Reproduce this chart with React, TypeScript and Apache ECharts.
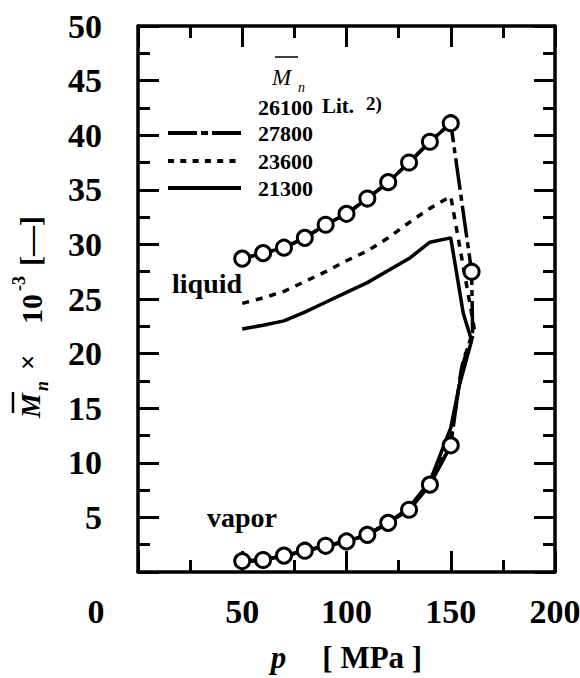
import React, { useEffect, useRef } from 'react';
import * as echarts from 'echarts';

// Pressure [MPa] at which the curves / literature points are given
const pressureSteps = [50, 60, 70, 80, 90, 100, 110, 120, 130, 140, 150];

// Lit. 2) data, Mn = 26100 (Mn x 10^-3)
const litLiquid = [28.7, 29.2, 29.7, 30.6, 31.8, 32.8, 34.2, 35.7, 37.5, 39.4, 41.1];
const litVapor = [1.0, 1.1, 1.5, 1.95, 2.4, 2.8, 3.4, 4.5, 5.7, 8.0, 11.6];
const litExtraP = [160];
const litExtraM = [27.5];

// Calculated, Mn = 27800 (dash-dot)
const liquid27800 = [28.7, 29.2, 29.7, 30.6, 31.8, 32.8, 34.2, 35.7, 37.5, 39.4, 41.1];
const turnP27800 = [160, 160.5, 155];
const turnM27800 = [27.5, 22.0, 18.5];
const vapor27800 = [1.0, 1.1, 1.5, 1.9, 2.4, 2.8, 3.4, 4.5, 5.7, 8.0, 11.6];

// Calculated, Mn = 23600 (dotted)
const liquid23600 = [24.6, 25.1, 25.7, 26.6, 27.5, 28.5, 29.4, 30.6, 32.0, 33.3, 34.4];
const turnP23600 = [160, 161.5, 156];
const turnM23600 = [23.7, 22.0, 19.5];
const vapor23600 = [0.9, 1.1, 1.5, 1.9, 2.4, 2.8, 3.4, 4.5, 5.8, 8.1, 12.2];

// Calculated, Mn = 21300 (solid)
const liquid21300 = [22.25, 22.6, 23.0, 23.8, 24.7, 25.6, 26.5, 27.6, 28.7, 30.2, 30.6];
const turnP21300 = [156, 160, 154];
const turnM21300 = [23.7, 21.2, 17.0];
const vapor21300 = [0.9, 1.1, 1.5, 1.9, 2.4, 2.8, 3.4, 4.5, 5.9, 8.3, 13.2];

const legendLabels = ['26100', '27800', '23600', '21300'];

const FONT = 'Liberation Serif, Times New Roman, serif';

const pairs = (xs: number[], ys: number[]) => xs.map((x, i) => [x, ys[i]]);
const loop = (liq: number[], tp: number[], tm: number[], vap: number[]) => [
  ...pairs(pressureSteps, liq),
  ...pairs(tp, tm),
  ...pairs(pressureSteps, vap).reverse(),
];

const txt = (
  x: number,
  y: number,
  text: string,
  fontSize: number,
  opts: { italic?: boolean; bold?: boolean } = {}
) => ({
  type: 'text',
  x,
  y,
  z: 10,
  style: {
    text,
    fontSize,
    fontFamily: FONT,
    fontWeight: opts.bold === false ? 'normal' : 'bold',
    fontStyle: opts.italic ? 'italic' : 'normal',
    fill: '#000',
    align: 'left',
    verticalAlign: 'middle',
  },
});

const hline = (x1: number, x2: number, y: number, width: number, dash?: number[]) => ({
  type: 'line',
  z: 10,
  shape: { x1, y1: y, x2, y2: y },
  style: { stroke: '#000', lineWidth: width, lineDash: dash, lineCap: 'butt' },
});

const axisCommon = {
  min: 0,
  axisLine: { show: true, onZero: false, lineStyle: { color: '#000', width: 3.5 } },
  axisTick: { show: true, inside: true, length: 21, lineStyle: { color: '#000', width: 3 } },
  minorTick: { show: true, splitNumber: 2, length: 12, lineStyle: { color: '#000', width: 3 } },
  splitLine: { show: false },
  minorSplitLine: { show: false },
};

const circleStyle = { color: '#fff', borderColor: '#000', borderWidth: 3, opacity: 1 };

export default function App() {
  const ref = useRef<HTMLDivElement>(null);
  useEffect(() => {
    const chart = echarts.init(ref.current!, undefined, { renderer: 'svg' });
    const labelStyle = { fontSize: 34, fontWeight: 'bold', fontFamily: FONT, color: '#000' };
    const option: any = {
      animation: false,
      backgroundColor: '#fff',
      grid: { left: 138, right: 25, top: 26, bottom: 106, containLabel: false, outerBoundsMode: 'none' },
      xAxis: [
        {
          ...axisCommon,
          type: 'value',
          position: 'bottom',
          max: 200,
          interval: 50,
          z: 3,
          axisLabel: {
            ...labelStyle,
            margin: 22,
            showMinLabel: true,
            showMaxLabel: true,
            formatter: (v: number) => (v === 0 ? '{z|0}' : String(v)),
            rich: { z: { ...labelStyle, padding: [0, 84, 0, 0] } },
          },
          name: '{p|p}{b|[ MPa ]}',
          nameLocation: 'middle',
          nameGap: 70,
          nameTextStyle: {
            rich: {
              p: { fontSize: 31, fontWeight: 'bold', fontStyle: 'italic', fontFamily: FONT, color: '#000', padding: [0, 36, 0, 0] },
              b: { fontSize: 31, fontWeight: 'bold', fontFamily: FONT, color: '#000' },
            },
          },
        },
        {
          ...axisCommon,
          type: 'value',
          position: 'top',
          max: 200,
          interval: 50,
          z: 3,
          axisLabel: { show: false },
        },
      ],
      yAxis: [
        {
          ...axisCommon,
          type: 'value',
          position: 'left',
          max: 50,
          interval: 5,
          z: 3,
          axisLabel: {
            ...labelStyle,
            margin: 36,
            showMaxLabel: true,
            formatter: (v: number) => (v === 0 ? '' : String(v)),
          },
        },
        {
          ...axisCommon,
          type: 'value',
          position: 'right',
          max: 50,
          interval: 5,
          z: 3,
          axisLabel: { show: false },
        },
      ],
      series: [
        {
          name: legendLabels[3],
          type: 'line',
          data: loop(liquid21300, turnP21300, turnM21300, vapor21300),
          showSymbol: false,
          lineStyle: { color: '#000', width: 3.5, type: 'solid' },
        },
        {
          name: legendLabels[2],
          type: 'line',
          data: loop(liquid23600, turnP23600, turnM23600, vapor23600),
          showSymbol: false,
          lineStyle: { color: '#000', width: 3.5, type: [7, 7] },
        },
        {
          name: legendLabels[1],
          type: 'line',
          data: loop(liquid27800, turnP27800, turnM27800, vapor27800),
          showSymbol: false,
          lineStyle: { color: '#000', width: 3.5, type: [32, 5, 6, 5] },
        },
        {
          name: legendLabels[0] + ' liquid',
          type: 'line',
          data: pairs(pressureSteps, litLiquid),
          symbol: 'circle',
          symbolSize: 15,
          showSymbol: true,
          lineStyle: { color: '#000', width: 3.5 },
          itemStyle: circleStyle,
        },
        {
          name: legendLabels[0] + ' vapor',
          type: 'line',
          data: pairs(pressureSteps, litVapor),
          symbol: 'circle',
          symbolSize: 15,
          showSymbol: true,
          lineStyle: { color: '#000', width: 3.5 },
          itemStyle: circleStyle,
        },
        {
          name: legendLabels[0] + ' extra',
          type: 'scatter',
          data: pairs(litExtraP, litExtraM),
          symbol: 'circle',
          symbolSize: 15,
          z: 4,
          itemStyle: circleStyle,
        },
      ],
      graphic: [
        // y-axis title, rotated
        {
          type: 'group',
          x: 30,
          y: 418,
          rotation: Math.PI / 2,
          children: [
            txt(0, 0, 'M', 28, { italic: true }),
            { type: 'line', shape: { x1: 5, y1: -17, x2: 26, y2: -17 }, style: { stroke: '#000', lineWidth: 2.5 } },
            txt(27, 12, 'n', 18, { italic: true }),
            txt(48, -2, '×', 27),
            txt(94, 1, '10', 30),
            txt(127, -11, '-3', 18),
            txt(152, 0, '[—]', 30),
          ],
        },
        // legend
        { type: 'line', z: 10, shape: { x1: 275, y1: 57, x2: 298, y2: 57 }, style: { stroke: '#000', lineWidth: 1.5 } },
        txt(272, 77, 'M', 23, { italic: true, bold: false }),
        txt(298, 87, 'n', 14, { italic: true, bold: false }),
        txt(258, 107, legendLabels[0], 22),
        txt(322, 106, 'Lit.', 21),
        txt(366, 103, '2)', 19),
        hline(168, 241, 133, 4, [29, 4, 7, 4]),
        txt(258, 133, legendLabels[1], 22),
        hline(168, 241, 161, 4, [6, 6.3]),
        txt(258, 161, legendLabels[2], 22),
        hline(168, 241, 188, 4),
        txt(258, 188, legendLabels[3], 22),
        // annotations
        txt(172, 283, 'liquid', 28),
        txt(207, 517, 'vapor', 28),
      ],
    };
    chart.setOption(option);
    return () => chart.dispose();
  }, []);
  return (
    <div
      ref={ref}
      style={{ position: 'fixed', left: 0, top: 0, width: 580, height: 678, background: '#fff' }}
    />
  );
}
